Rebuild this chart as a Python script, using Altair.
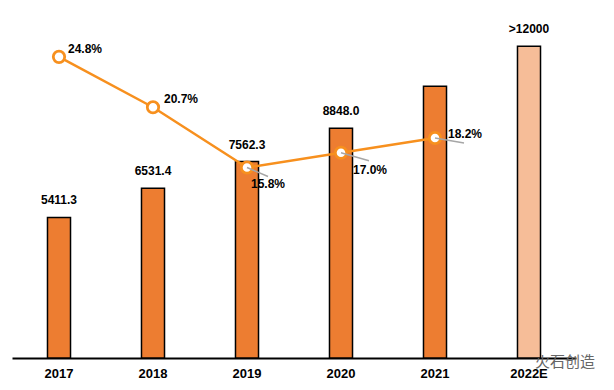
import altair as alt
import pandas as pd

years = ["2017", "2018", "2019", "2020", "2021", "2022E"]
scale_values = [5411.3, 6531.4, 7562.3, 8848.0, 10460.0, 12000.0]
scale_labels = ["5411.3", "6531.4", "7562.3", "8848.0", "", ">12000"]
growth = [24.8, 20.7, 15.8, 17.0, 18.2, None]

df = pd.DataFrame({
    "year": years,
    "value": scale_values,
    "label": scale_labels,
    "growth": growth,
})
df["glabel"] = [f"{g:.1f}%" if g is not None else "" for g in growth]
gdf = df.dropna(subset=["growth"])

BAR = "#ED7D31"
BAR_E = "#F6BD98"
LINE = "#F7901E"
FONT = "Liberation Sans"

x = alt.X("year:N", sort=years, title=None,
          scale=alt.Scale(paddingInner=0.755, paddingOuter=0.3775),
          axis=alt.Axis(labelAngle=0, ticks=False, domainColor="black", domainWidth=2,
                        labelFont=FONT, labelFontWeight="bold", labelFontSize=13,
                        labelColor="black", labelPadding=9))

ybar = alt.Y("value:Q", axis=None, scale=alt.Scale(domain=[0, 13013], nice=False, zero=True))
ypct = alt.Y("growth:Q", axis=None, scale=alt.Scale(domain=[0.3, 27.8], nice=False, zero=False))

base = alt.Chart(df)

bars = base.mark_bar(stroke="black", strokeWidth=1.5).encode(
    x=x, y=ybar,
    color=alt.condition(alt.datum.year == "2022E", alt.value(BAR_E), alt.value(BAR)),
)
bar_text = base.mark_text(baseline="bottom", dy=-10, font=FONT, fontWeight="bold",
                          fontSize=12, color="black").encode(
    x=alt.X("year:N", sort=years), y=ybar, text="label:N")

bar_layer = alt.layer(bars, bar_text)

gbase = alt.Chart(gdf)
line = gbase.mark_line(color=LINE, strokeWidth=2.5).encode(
    x=alt.X("year:N", sort=years), y=ypct)
pts = gbase.mark_point(shape="circle", size=130, filled=True, fill="white",
                       stroke=LINE, strokeWidth=2.8, opacity=1).encode(
    x=alt.X("year:N", sort=years), y=ypct)

# label placement (dx, dy) and leader line end offsets per year
placements = {
    "2017": (9, -8, None),
    "2018": (11, -8, None),
    "2019": (4, 17, (21, 9)),
    "2020": (12, 17, (28, 8)),
    "2021": (13, -4, (29, 5)),
}
layers = [line, pts]
for yr, (dx, dy, lead) in placements.items():
    sub = gbase.transform_filter(alt.datum.year == yr)
    if lead is not None:
        layers.append(sub.mark_rule(color="#A6A6A6", strokeWidth=1.5,
                                    x2Offset=lead[0], y2Offset=lead[1]).encode(
            x=alt.X("year:N", sort=years), y=ypct,
            x2="year:N", y2="growth:Q"))
for yr, (dx, dy, lead) in placements.items():
    sub = gbase.transform_filter(alt.datum.year == yr)
    layers.append(sub.mark_text(align="left", baseline="middle", dx=dx, dy=dy,
                                font=FONT, fontWeight="bold", fontSize=12,
                                color="black").encode(
        x=alt.X("year:N", sort=years), y=ypct, text="glabel:N"))

line_layer = alt.layer(*layers)

mark_txt = alt.Chart(pd.DataFrame({"t": ["火石创造"]})).mark_text(
    align="left", baseline="middle", font="Noto Sans CJK SC", fontSize=15,
    color="#666666").encode(x=alt.value(523), y=alt.value(342), text="t:N")

chart = alt.layer(bar_layer, line_layer, mark_txt).resolve_scale(y="independent").properties(
    width=564, height=338,
    autosize=alt.AutoSizeParams(type="none"),
    padding={"left": 4, "top": 12, "right": 30, "bottom": 30},
).configure_view(stroke=None)

chart.save("out.html", embed_options={"renderer": "svg", "actions": False})
